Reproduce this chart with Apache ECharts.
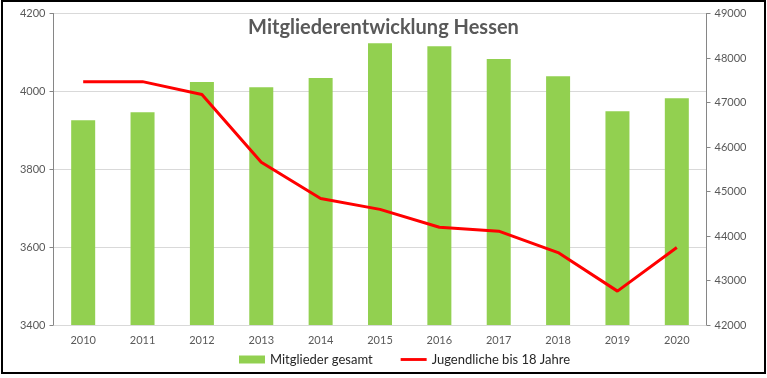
<!DOCTYPE html>
<html>
<head>
<meta charset="utf-8">
<script src="https://cdn.jsdelivr.net/npm/echarts@6/dist/echarts.min.js"></script>
<style>
html,body{margin:0;padding:0;background:#fff;}
#chart{position:absolute;left:0;top:0;width:767px;height:378px;}
#frame{position:absolute;left:1px;top:0px;width:765px;height:374px;box-sizing:border-box;border:2px solid #000;pointer-events:none;}
</style>
</head>
<body>
<div id="chart"></div>
<div id="frame"></div>
<script>
const years = ['2010','2011','2012','2013','2014','2015','2016','2017','2018','2019','2020'];
const mitgliederGesamt = [46600, 46780, 47460, 47340, 47550, 48330, 48265, 47975, 47590, 46805, 47095];
const jugendliche = [4025, 4025, 3992, 3818, 3725, 3697, 3651, 3641, 3586, 3487, 3599];
const titleText = 'Mitgliederentwicklung Hessen';
const seriesNames = ['Mitglieder gesamt', 'Jugendliche bis 18 Jahre'];

const chart = echarts.init(document.getElementById('chart'), null, {renderer: 'canvas'});
const font = 'Lato, "Open Sans", sans-serif';
const plain = v => String(v);
chart.setOption({
  animation: false,
  backgroundColor: '#fff',
  textStyle: {fontFamily: font},
  title: {
    text: titleText,
    left: 'center',
    top: 13,
    textStyle: {fontFamily: font, fontSize: 20, fontWeight: 'bold', color: '#595959'}
  },
  grid: {left: 53.5, right: 60.5, top: 13.5, bottom: 53, containLabel: false},
  legend: {
    bottom: 7,
    left: 234,
    itemGap: 28,
    itemWidth: 26,
    itemHeight: 8,
    textStyle: {fontFamily: font, fontSize: 13, color: '#262626'},
    data: [
      {name: seriesNames[0], icon: 'rect'},
      {name: seriesNames[1], icon: 'path://M0,0L100,0L100,11L0,11Z', itemStyle: {color: '#ff0000'}}
    ]
  },
  xAxis: {
    type: 'category',
    data: years,
    axisLine: {lineStyle: {color: '#d9d9d9', width: 1}},
    axisTick: {show: false},
    axisLabel: {color: '#595959', fontSize: 11, margin: 10, fontFamily: font}
  },
  yAxis: [
    {
      type: 'value',
      min: 3400, max: 4200, interval: 200,
      position: 'left',
      axisLine: {show: true, lineStyle: {color: '#868686'}},
      axisTick: {show: true, length: 4, lineStyle: {color: '#868686'}},
      axisLabel: {color: '#595959', fontSize: 11, margin: 8, fontFamily: font, formatter: plain},
      splitLine: {show: true, lineStyle: {color: '#d9d9d9'}}
    },
    {
      type: 'value',
      min: 42000, max: 49000, interval: 1000,
      position: 'right',
      axisLine: {show: true, lineStyle: {color: '#868686'}},
      axisTick: {show: true, length: 4, lineStyle: {color: '#868686'}},
      axisLabel: {color: '#595959', fontSize: 11, margin: 8, fontFamily: font, formatter: plain},
      splitLine: {show: false}
    }
  ],
  series: [
    {
      name: seriesNames[0],
      type: 'bar',
      yAxisIndex: 1,
      data: mitgliederGesamt,
      barWidth: 24,
      itemStyle: {color: '#92d050'}
    },
    {
      name: seriesNames[1],
      type: 'line',
      yAxisIndex: 0,
      data: jugendliche,
      symbol: 'none',
      lineStyle: {color: '#ff0000', width: 3},
      itemStyle: {color: '#ff0000'}
    }
  ]
});
</script>
</body>
</html>
